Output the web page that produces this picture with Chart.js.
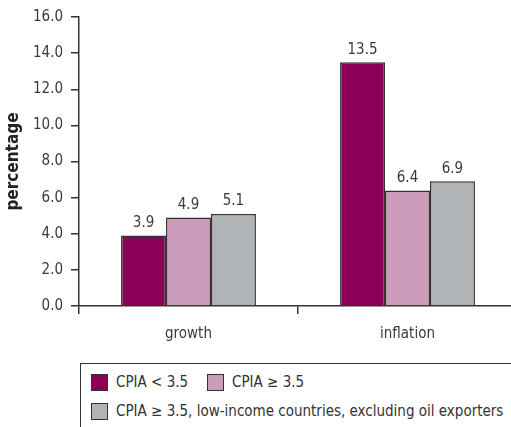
<!DOCTYPE html>
<html>
<head>
<meta charset="utf-8">
<script src="https://cdn.jsdelivr.net/npm/chart.js@4"></script>
<style>
  body { margin: 0; background: #fff; overflow: hidden; width: 511px; height: 427px; position: relative; }
  #wrap { position: absolute; left: 0; top: 0; width: 518px; height: 343px; }
  #legend {
    position: absolute; left: 80px; top: 363px; width: 460px; height: 70px;
    border: 1px solid #333; box-sizing: border-box;
    font-family: "Liberation Sans Narrow", "DejaVu Sans Condensed", Arial, sans-serif;
    font-size: 15px; color: #333;
  }
  .item { position: absolute; display: flex; align-items: center; white-space: nowrap; }
  .sw { width: 15px; height: 15px; border: 1px solid #333; margin-right: 8px; }
</style>
</head>
<body>
<div id="wrap"><canvas id="c"></canvas></div>
<div id="legend"></div>
<script>
const categories = ['growth', 'inflation'];
const seriesNames = ['CPIA < 3.5', 'CPIA ≥ 3.5', 'CPIA ≥ 3.5, low-income countries, excluding oil exporters'];
const lowCpia = [3.9, 13.5];
const highCpia = [4.9, 6.4];
const highCpiaLowIncome = [5.1, 6.9];
const yTicks = [0, 2, 4, 6, 8, 10, 12, 14, 16];

const colors = ['#8b0057', '#cc9bb9', '#b1b4b7'];
const font = '"Liberation Sans Narrow", "DejaVu Sans Condensed", Arial, sans-serif';
const textColor = '#3a3a3a';

const valueLabels = {
  id: 'valueLabels',
  afterDatasetsDraw(chart) {
    const ctx = chart.ctx;
    ctx.save();
    ctx.font = '15px ' + font;
    ctx.fillStyle = textColor;
    ctx.textAlign = 'center';
    ctx.textBaseline = 'bottom';
    chart.data.datasets.forEach((ds, i) => {
      chart.getDatasetMeta(i).data.forEach((bar, j) => {
        ctx.fillText(ds.data[j].toFixed(1), bar.x, bar.y - 5);
      });
    });
    ctx.restore();
  }
};

const data = {
  labels: categories,
  datasets: [lowCpia, highCpia, highCpiaLowIncome].map((vals, i) => ({
    label: seriesNames[i],
    data: vals,
    backgroundColor: colors[i],
    borderColor: '#333',
    borderWidth: 1.5,
    categoryPercentage: 0.616,
    barPercentage: 1
  }))
};

const config = {
  type: 'bar',
  data: data,
  options: {
    responsive: true,
    maintainAspectRatio: false,
    animation: false,
    layout: { padding: { top: 14, right: 1, left: 0, bottom: 0 } },
    plugins: { legend: { display: false }, tooltip: { enabled: false } },
    scales: {
      x: {
        offset: true,
        grid: { offset: true, drawOnChartArea: false, color: '#333', tickLength: 8, lineWidth: 1.5 },
        border: { color: '#333', width: 1.5 },
        ticks: { color: textColor, font: { family: font, size: 15 }, padding: 11 },
        afterFit(scale) { scale.height = 37; }
      },
      y: {
        min: 0,
        max: 16,
        afterBuildTicks(scale) { scale.ticks = yTicks.map(v => ({ value: v })); },
        grid: { drawOnChartArea: false, color: '#333', tickLength: 8, lineWidth: 1.5 },
        border: { color: '#333', width: 1.5 },
        ticks: {
          color: textColor, font: { family: font, size: 15 }, padding: 8,
          callback: v => v.toFixed(1)
        },
        title: {
          display: true, text: 'percentage', color: '#222',
          font: { family: font, size: 17, weight: 'bold' }, padding: { top: 3, bottom: 0 }
        },
        afterFit(scale) { scale.width = 79; }
      }
    }
  },
  plugins: [valueLabels]
};

new Chart(document.getElementById('c').getContext('2d'), config);

// legend, laid out like the original's boxed key
const legendRows = [[0, 1], [2]];
const legend = document.getElementById('legend');
const xs = [10, 126];
legendRows.forEach((row, r) => {
  row.forEach((idx, k) => {
    const el = document.createElement('div');
    el.className = 'item';
    el.style.left = xs[k] + 'px';
    el.style.top = (9 + r * 29) + 'px';
    el.innerHTML = '<span class="sw" style="background:' + colors[idx] + '"></span>';
    el.appendChild(document.createTextNode(seriesNames[idx]));
    legend.appendChild(el);
  });
});
</script>
</body>
</html>
